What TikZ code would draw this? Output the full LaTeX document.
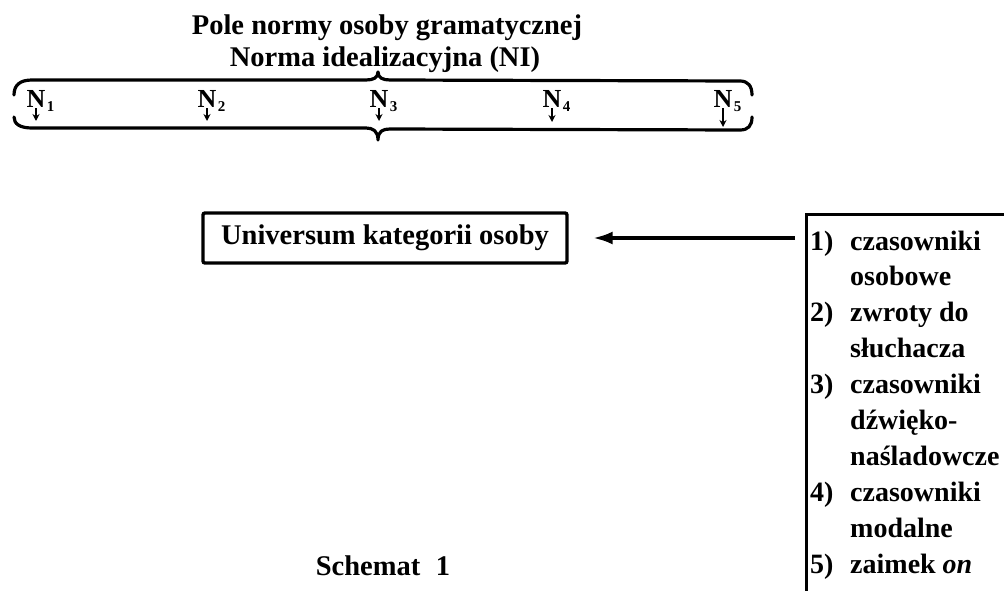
\documentclass[tikz,border=0pt]{standalone}
\usepackage{fontspec}
\setmainfont{Liberation Serif}
\usetikzlibrary{arrows.meta}

\tikzset{
  txt/.style={inner sep=0pt, font=\fontsize{28.5}{34}\selectfont\bfseries},
  itemtxt/.style={inner sep=0pt, anchor=base west, font=\fontsize{28}{34}\selectfont\bfseries},
  nlab/.style={inner sep=0pt, anchor=base, font=\fontsize{26}{30}\selectfont\bfseries},
  sublab/.style={inner sep=0pt, anchor=base west, font=\fontsize{15}{18}\selectfont\bfseries},
  brace/.style={line width=3.2pt, line cap=round, line join=round},
  frame/.style={draw, line width=3.4pt},
  narrow/.style={line width=2.2pt, -{Stealth[length=7pt,width=7pt]}},
  bigarrow/.style={line width=3.8pt, -{Latex[length=20pt,width=13pt]}},
}

\begin{document}
\begin{tikzpicture}[x=1pt,y=-1pt]
\useasboundingbox (0,0) rectangle (1004,591);
\clip (0,0) rectangle (1004,591);

% heading
\node[txt, anchor=base] (title) at (387,35) {Pole normy osoby gramatycznej};
\node[txt, anchor=base] (norm)  at (385,67) {Norma idealizacyjna (NI)};

% upper brace, tip pointing up
\draw[brace] (14,95) .. controls (14,85) and (20,80) .. (32,80)
  -- (366,80) .. controls (373,80) and (378,78) .. (378,72)
  .. controls (378,78) and (383,80) .. (390,80)
  -- (740,81) .. controls (748,81) and (752,86) .. (752,95);
% lower brace, tip pointing down
\draw[brace] (14,117) .. controls (14,124) and (20,128) .. (32,128)
  -- (366,128) .. controls (373,128) and (378,131) .. (378,140)
  .. controls (378,131) and (383,129) .. (390,129)
  -- (740,130) .. controls (748,130) and (752,126) .. (752,117);

% norms N1..N5 with their small arrows
\foreach \k/\x/\e in {1/36/121, 2/207/121, 3/379/121, 4/552/122, 5/723/127}{
  \node[nlab] (n\k) at (\x,108) {N};
  \node[sublab] (s\k) at ([xshift=1pt,yshift=-4pt]n\k.base east) {\k};
  \coordinate (t\k) at (\x,\e);
  \draw[narrow] (n\k.south) -- (t\k);
}

% central box
\node[frame, rounded corners=2pt, minimum width=364pt, minimum height=50pt,
      inner sep=0pt, txt] (univ) at (385,238) {Universum kategorii osoby};

% list box on the right
\node[frame, anchor=north west, minimum width=260pt, minimum height=420pt,
      inner sep=0pt] (list) at (805,213) {};

\foreach \i/\num/\word in {
   0/1)/czasowniki, 1//osobowe,
   2/2)/zwroty do, 3//słuchacza,
   4/3)/czasowniki, 5//dźwięko-, 6//naśladowcze,
   7/4)/czasowniki, 8//modalne,
   9/5)/zaimek \textit{on}}{
  \node[itemtxt] (num\i) at (810,{250+35.9*\i}) {\num};
  \node[itemtxt] (item\i) at (850,{250+35.9*\i}) {\word};
}

% arrow from the list to the central box
\draw[bigarrow, shorten <=10pt, shorten >=24pt] (list.west |- univ.east) -- (univ.east);

% caption
\node[txt, anchor=base] (cap) at (383,575) {Schemat\hspace{0.3em} 1};
\end{tikzpicture}
\end{document}
